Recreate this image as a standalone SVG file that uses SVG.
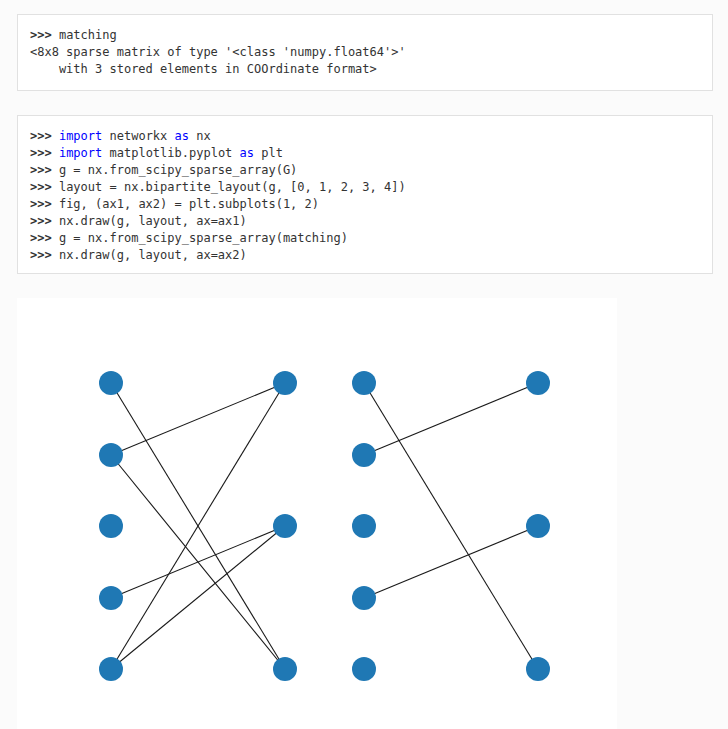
<svg xmlns="http://www.w3.org/2000/svg" width="728" height="729" viewBox="0 0 728 729">
  <style>
    .panel { fill: #ffffff; stroke: #e1e1e1; stroke-width: 1; }
    .code { font-family: "DejaVu Sans Mono", "Liberation Mono", monospace; font-size: 12px; fill: #333333; white-space: pre; }
    .prompt { font-weight: bold; fill: #333333; }
    .kw { fill: #0000ff; }
    .node { fill: #1f78b4; }
    .edge { stroke: #1a1a1a; stroke-width: 1.1; fill: none; }
  </style>

  <!-- page background -->
  <rect x="0" y="0" width="728" height="729" fill="#fbfbfb"/>

  <!-- output block -->
  <rect class="panel" x="17.5" y="14.5" width="695" height="76"/>
  <text class="code" x="30" y="39"><tspan class="prompt">&gt;&gt;&gt;</tspan> matching</text>
  <text class="code" x="30" y="56">&lt;8x8 sparse matrix of type '&lt;class 'numpy.float64'&gt;'</text>
  <text class="code" x="30" y="73">    with 3 stored elements in COOrdinate format&gt;</text>

  <!-- code block -->
  <rect class="panel" x="17.5" y="115.5" width="695" height="158"/>
  <text class="code" x="30" y="139.5"><tspan class="prompt">&gt;&gt;&gt;</tspan> <tspan class="kw">import</tspan> networkx <tspan class="kw">as</tspan> nx</text>
  <text class="code" x="30" y="156.5"><tspan class="prompt">&gt;&gt;&gt;</tspan> <tspan class="kw">import</tspan> matplotlib.pyplot <tspan class="kw">as</tspan> plt</text>
  <text class="code" x="30" y="173.5"><tspan class="prompt">&gt;&gt;&gt;</tspan> g = nx.from_scipy_sparse_array(G)</text>
  <text class="code" x="30" y="190.5"><tspan class="prompt">&gt;&gt;&gt;</tspan> layout = nx.bipartite_layout(g, [0, 1, 2, 3, 4])</text>
  <text class="code" x="30" y="207.5"><tspan class="prompt">&gt;&gt;&gt;</tspan> fig, (ax1, ax2) = plt.subplots(1, 2)</text>
  <text class="code" x="30" y="224.5"><tspan class="prompt">&gt;&gt;&gt;</tspan> nx.draw(g, layout, ax=ax1)</text>
  <text class="code" x="30" y="241.5"><tspan class="prompt">&gt;&gt;&gt;</tspan> g = nx.from_scipy_sparse_array(matching)</text>
  <text class="code" x="30" y="258.5"><tspan class="prompt">&gt;&gt;&gt;</tspan> nx.draw(g, layout, ax=ax2)</text>

  <!-- figure canvas -->
  <rect x="17" y="298" width="600" height="431" fill="#ffffff"/>

  <!-- connectors -->
  <g id="edges">
    <!-- ax1: full graph -->
    <line class="edge" x1="111" y1="383" x2="285" y2="669"/>
    <line class="edge" x1="111" y1="455" x2="285" y2="383"/>
    <line class="edge" x1="111" y1="455" x2="285" y2="669"/>
    <line class="edge" x1="111" y1="598" x2="285" y2="526"/>
    <line class="edge" x1="111" y1="669" x2="285" y2="383"/>
    <line class="edge" x1="111" y1="669" x2="285" y2="526"/>
    <!-- ax2: matching -->
    <line class="edge" x1="364" y1="383" x2="538" y2="669"/>
    <line class="edge" x1="364" y1="455" x2="538" y2="383"/>
    <line class="edge" x1="364" y1="598" x2="538" y2="526"/>
  </g>

  <!-- ax1 nodes -->
  <g id="a0"><circle class="node" cx="111" cy="383" r="12"/></g>
  <g id="a1"><circle class="node" cx="111" cy="455" r="12"/></g>
  <g id="a2"><circle class="node" cx="111" cy="526" r="12"/></g>
  <g id="a3"><circle class="node" cx="111" cy="598" r="12"/></g>
  <g id="a4"><circle class="node" cx="111" cy="669" r="12"/></g>
  <g id="a5"><circle class="node" cx="285" cy="383" r="12"/></g>
  <g id="a6"><circle class="node" cx="285" cy="526" r="12"/></g>
  <g id="a7"><circle class="node" cx="285" cy="669" r="12"/></g>

  <!-- ax2 nodes -->
  <g id="b0"><circle class="node" cx="364" cy="383" r="12"/></g>
  <g id="b1"><circle class="node" cx="364" cy="455" r="12"/></g>
  <g id="b2"><circle class="node" cx="364" cy="526" r="12"/></g>
  <g id="b3"><circle class="node" cx="364" cy="598" r="12"/></g>
  <g id="b4"><circle class="node" cx="364" cy="669" r="12"/></g>
  <g id="b5"><circle class="node" cx="538" cy="383" r="12"/></g>
  <g id="b6"><circle class="node" cx="538" cy="526" r="12"/></g>
  <g id="b7"><circle class="node" cx="538" cy="669" r="12"/></g>
</svg>
